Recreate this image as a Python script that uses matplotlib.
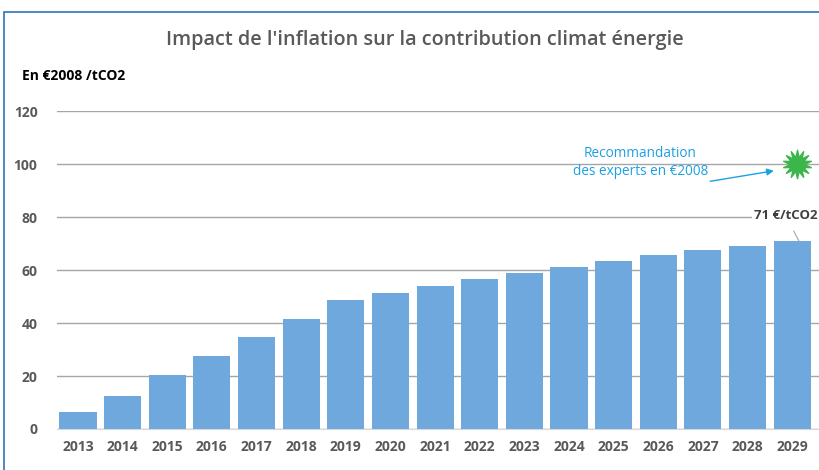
import matplotlib
matplotlib.use("Agg")
import matplotlib.pyplot as plt
from matplotlib.patches import Rectangle

years = ["2013", "2014", "2015", "2016", "2017", "2018", "2019", "2020", "2021",
         "2022", "2023", "2024", "2025", "2026", "2027", "2028", "2029"]
values = [6.4, 12.6, 20.2, 27.5, 34.8, 41.6, 48.5, 51.3, 54.0, 56.6, 59.0,
          61.0, 63.3, 65.6, 67.4, 69.2, 71.0]
yticks = [0, 20, 40, 60, 80, 100, 120]
expert_value = 100

plt.rcParams['font.family'] = ['Open Sans', 'DejaVu Sans']

W, H = 819, 470
fig = plt.figure(figsize=(W/100, H/100), dpi=100)
ax = fig.add_axes([57/W, 1-429/H, (819-57)/W, (429-111)/H])

x = list(range(len(years)))
ax.bar(x, values, width=0.83, color='#6fa8dc', edgecolor='none', zorder=3)
ax.set_ylim(0, 120)
ax.set_xlim(-0.47, 16.6)
ax.set_yticks(yticks)
ax.set_yticklabels([str(v) for v in yticks], fontsize=10, color='#595959', fontweight='bold')
ax.set_xticks(x)
ax.set_xticklabels(years, fontsize=10, color='#595959', fontweight='bold')
ax.tick_params(axis='both', length=0)
ax.tick_params(axis='x', pad=8)
ax.tick_params(axis='y', pad=14)
ax.grid(axis='y', color='#a6a6a6', linewidth=1, zorder=0)
for s in ['top', 'right', 'left']:
    ax.spines[s].set_visible(False)
ax.spines['bottom'].set_color('#d9d9d9')

# star for expert recommendation
ax.scatter([16.1], [expert_value], marker=(14, 1, 0), s=420, color='#3cb54a', zorder=5, clip_on=False)
ax.text(12.6, 100.5, "Recommandation\ndes experts en €2008", ha='center', va='center',
        fontsize=9.8, color='#1ba1e2', linespacing=1.3)
ax.annotate("", xy=(15.65, 97.6), xytext=(14.1, 93.3),
            arrowprops=dict(arrowstyle='-|>', color='#1ba1e2', lw=1, mutation_scale=10))

# label for last bar
ax.annotate("71 €/tCO2", xy=(16.15, values[-1]), xytext=(15.85, 80.5),
            ha='center', va='center', fontsize=9.5, fontweight='bold', color='#404040',
            arrowprops=dict(arrowstyle='-', color='#a6a6a6', lw=0.8, shrinkA=6, shrinkB=0),
            bbox=dict(facecolor='white', edgecolor='none', pad=1), zorder=6)

fig.text(425/W, 1-40/H, "Impact de l'inflation sur la contribution climat énergie",
         ha='center', va='center', fontsize=14.3, fontweight='semibold', color='#595959')
fig.text(22/W, 1-76/H, "En €2008 /tCO2", ha='left', va='center', fontsize=10,
         fontweight='bold', color='#000000')

fig.patches.append(Rectangle((4/W, -0.1), 1.2, 1-12/H+0.1, transform=fig.transFigure,
                             fill=False, edgecolor='#2e75b6', linewidth=1.2))

fig.savefig("out.png", dpi=100, facecolor='white')
